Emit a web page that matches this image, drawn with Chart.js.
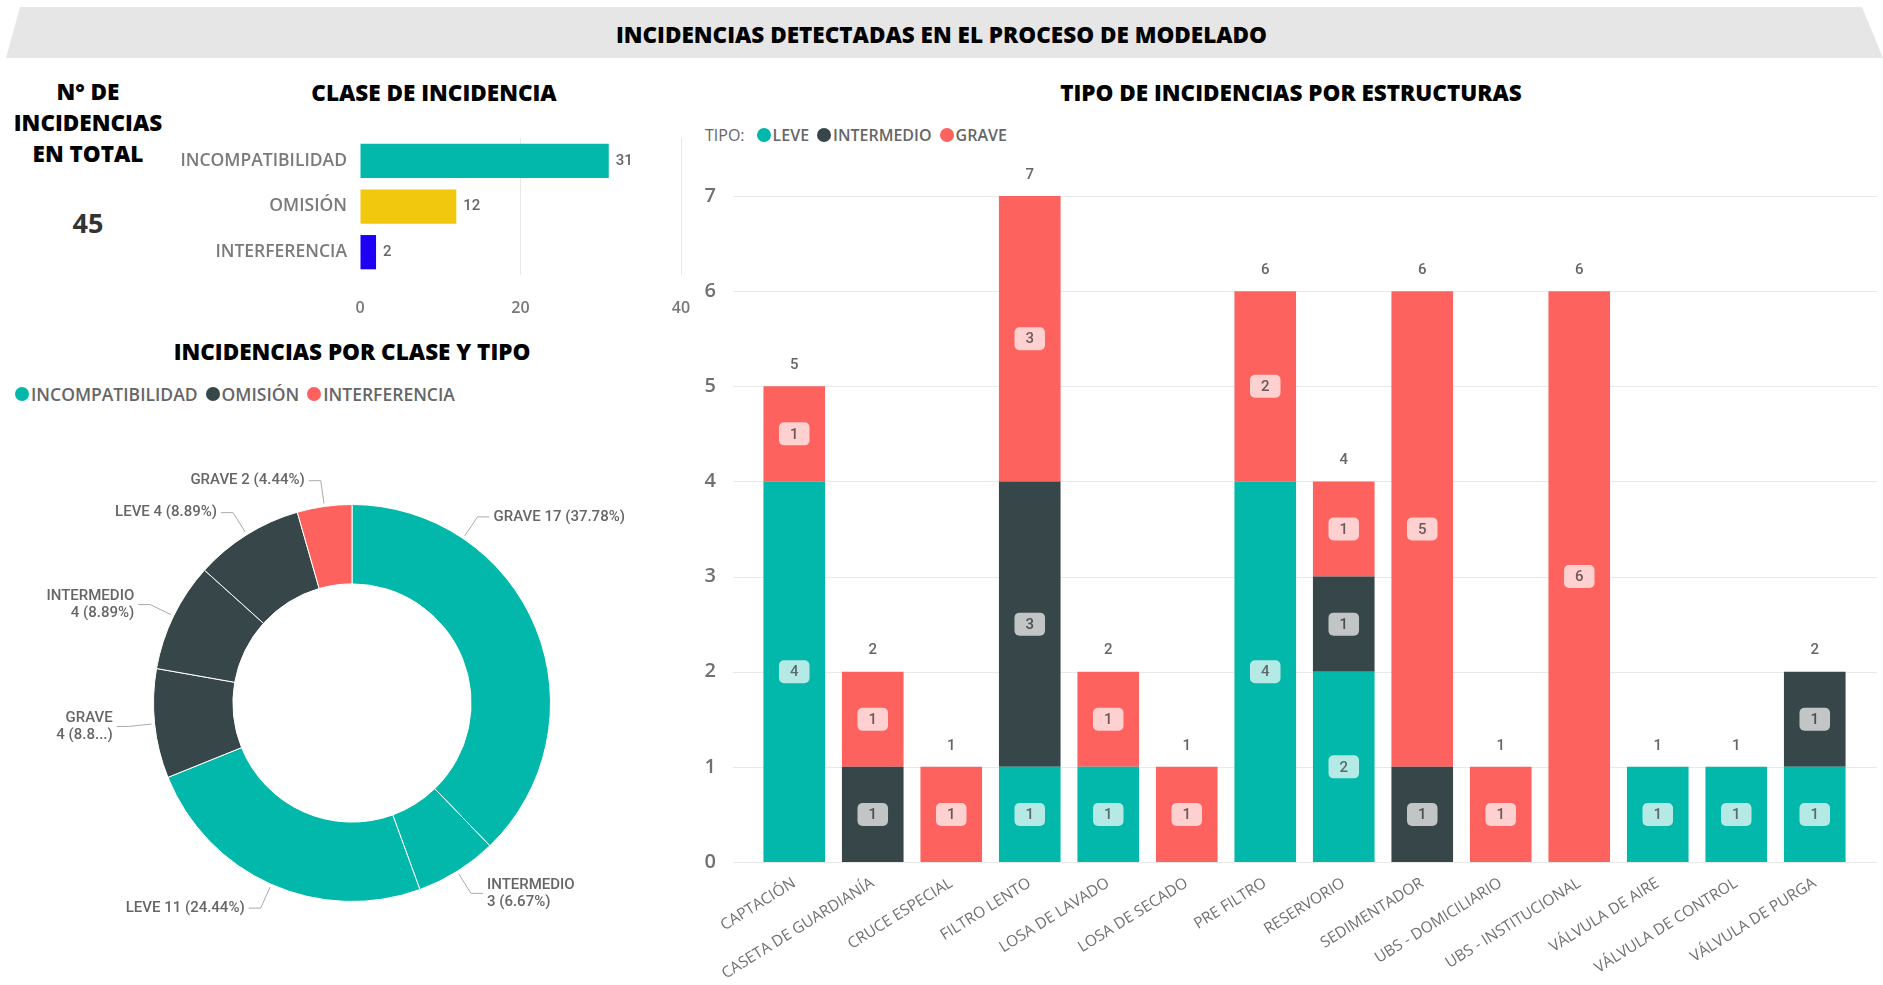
<!DOCTYPE html>
<html lang="es">
<head>
<meta charset="utf-8">
<title>Incidencias detectadas en el proceso de modelado</title>
<script src="https://cdn.jsdelivr.net/npm/chart.js@4.4.1/dist/chart.umd.min.js"></script>
<style>
  html, body { margin: 0; padding: 0; background: #fff; }
  body { width: 1883px; height: 985px; position: relative; overflow: hidden; font-family: 'Open Sans', sans-serif; }
  .banner { position: absolute; left: 0; top: 7px; width: 1883px; height: 51px; background: #e6e6e6;
            clip-path: polygon(20px 0, 1862px 0, 1883px 100%, 6px 100%); }
  .banner h1 { margin: 0; font-size: 22.5px; font-weight: 800; line-height: 55px; text-align: center; color: #000; }
  .title { position: absolute; font-weight: 800; font-size: 22.5px; color: #000; white-space: nowrap;
           transform: translate(-50%, -50%); }
  .kpi { position: absolute; left: 88px; top: 76px; transform: translateX(-50%); text-align: center;
         font-weight: 800; font-size: 22.5px; line-height: 31px; color: #000; white-space: nowrap; }
  .kpi-value { position: absolute; left: 88px; top: 222px; transform: translate(-50%, -50%);
               font-weight: 700; font-size: 27px; color: #333; }
  .legend { position: absolute; display: flex; align-items: center; font-size: 16px; font-weight: 600;
            color: #666; white-space: nowrap; transform: translateY(-50%); }
  .legend .dot { display: inline-block; width: 14px; height: 14px; border-radius: 50%; margin: 0 2px 0 0; }
  .legend .item { display: flex; align-items: center; margin-right: 8px; }
  .legend .lead { font-weight: 400; margin-right: 12px; }
  #claseLegend { font-size: 17.5px; }
  canvas { position: absolute; }
</style>
</head>
<body>
<div class="banner"><h1>INCIDENCIAS DETECTADAS EN EL PROCESO DE MODELADO</h1></div>

<div class="kpi">N° DE<br>INCIDENCIAS<br>EN TOTAL</div>
<div class="kpi-value" id="kpiTotal"></div>

<div class="title" style="left:434px; top:92px;">CLASE DE INCIDENCIA</div>
<div class="title" style="left:352px; top:351px;">INCIDENCIAS POR CLASE Y TIPO</div>
<div class="title" style="left:1291px; top:92px;">TIPO DE INCIDENCIAS POR ESTRUCTURAS</div>

<div class="legend" id="claseLegend" style="left:15px; top:394px;"></div>
<div class="legend" id="tipoLegend" style="left:705px; top:135px;"></div>

<canvas id="claseChart" width="560" height="200" style="left:150px; top:120px;"></canvas>
<canvas id="donutChart" width="704" height="526" style="left:0; top:440px;"></canvas>
<canvas id="estructuraChart" width="1203" height="835" style="left:680px; top:150px;"></canvas>

<script>
// clase de incidencia
const clases = ['INCOMPATIBILIDAD', 'OMISIÓN', 'INTERFERENCIA'];
const clasesTotal = [31, 12, 2];

// doughnut: clase y tipo
const sliceClase = ['INCOMPATIBILIDAD', 'INCOMPATIBILIDAD', 'INCOMPATIBILIDAD', 'OMISIÓN', 'OMISIÓN', 'OMISIÓN', 'INTERFERENCIA'];
const sliceTipo = ['GRAVE', 'INTERMEDIO', 'LEVE', 'GRAVE', 'INTERMEDIO', 'LEVE', 'GRAVE'];
const sliceValor = [17, 3, 11, 4, 4, 4, 2];

// tipo de incidencias por estructura
const estructuras = ['CAPTACIÓN', 'CASETA DE GUARDIANÍA', 'CRUCE ESPECIAL', 'FILTRO LENTO', 'LOSA DE LAVADO',
  'LOSA DE SECADO', 'PRE FILTRO', 'RESERVORIO', 'SEDIMENTADOR', 'UBS - DOMICILIARIO', 'UBS - INSTITUCIONAL',
  'VÁLVULA DE AIRE', 'VÁLVULA DE CONTROL', 'VÁLVULA DE PURGA'];
const tipos = ['LEVE', 'INTERMEDIO', 'GRAVE'];
const leve       = [4, 0, 0, 1, 1, 0, 4, 2, 0, 0, 0, 1, 1, 1];
const intermedio = [0, 1, 0, 3, 0, 0, 0, 1, 1, 0, 0, 0, 0, 1];
const grave      = [1, 1, 1, 3, 1, 1, 2, 1, 5, 1, 6, 0, 0, 0];
const yTicks = [0, 1, 2, 3, 4, 5, 6, 7];

const TEAL = '#01B8AA', DARK = '#374649', RED = '#FD625E', YELLOW = '#F2C80F', BLUE = '#2000F5';
const claseBarColors = [TEAL, YELLOW, BLUE];
const claseColor = { 'INCOMPATIBILIDAD': TEAL, 'OMISIÓN': DARK, 'INTERFERENCIA': RED };
const tipoColor = [TEAL, DARK, RED];
const badgeFill = { [TEAL]: '#b4e9e5', [DARK]: '#c2c5c6', [RED]: '#fed0cf' };
const badgeText = { [TEAL]: '#5b6a69', [DARK]: '#4a4f50', [RED]: '#6a5a5a' };

const numFont = "Roboto, 'DejaVu Sans', sans-serif";
Chart.defaults.font.family = "'Open Sans', sans-serif";
Chart.defaults.animation = false;

document.getElementById('kpiTotal').textContent = clasesTotal.reduce((a, b) => a + b, 0);

// html legends
function buildLegend(el, lead, names, colors) {
  let html = lead ? `<span class="lead">${lead}</span>` : '';
  names.forEach((n, i) => {
    html += `<span class="item"><span class="dot" style="background:${colors[i]}"></span>${n}</span>`;
  });
  el.innerHTML = html;
}
buildLegend(document.getElementById('claseLegend'), '', clases, clases.map(c => claseColor[c]));
buildLegend(document.getElementById('tipoLegend'), 'TIPO:', tipos, tipoColor);

// value next to each horizontal bar
const barValueLabels = {
  id: 'barValueLabels',
  afterDatasetsDraw(chart) {
    const ctx = chart.ctx;
    const ds = chart.data.datasets[0];
    ctx.save();
    ctx.font = `500 15px ${numFont}`;
    ctx.fillStyle = '#666';
    ctx.textAlign = 'left';
    ctx.textBaseline = 'middle';
    chart.getDatasetMeta(0).data.forEach((bar, i) => {
      ctx.fillText(ds.data[i], bar.x + 7, bar.y);
    });
    ctx.restore();
  }
};

new Chart(document.getElementById('claseChart'), {
  type: 'bar',
  data: {
    labels: clases,
    datasets: [{ data: clasesTotal, backgroundColor: claseBarColors, barPercentage: 0.75, categoryPercentage: 1 }]
  },
  options: {
    indexAxis: 'y',
    responsive: false,
    layout: { padding: { top: 18, right: 29, bottom: 0, left: 0 } },
    plugins: { legend: { display: false }, tooltip: { enabled: false } },
    scales: {
      x: {
        min: 0, max: 40,
        ticks: { stepSize: 20, padding: 24, color: '#777', font: { size: 16, weight: 600 } },
        grid: { drawTicks: false, color: c => c.tick && c.tick.value === 0 ? 'rgba(0,0,0,0)' : '#e8e8e8' },
        border: { display: false },
        afterFit: s => { s.height = 45; s.paddingLeft = 0; s.paddingRight = 0; }
      },
      y: {
        ticks: { padding: 5, color: '#7a7a7a', font: { size: 17.5, weight: 600 } },
        grid: { display: false },
        border: { display: false },
        afterFit: s => { s.width = 210; }
      }
    }
  },
  plugins: [barValueLabels]
});

// outside labels with leader lines for the doughnut
const donutLabels = {
  id: 'donutLabels',
  afterDraw(chart, args, opts) {
    const ctx = chart.ctx;
    const total = sliceValor.reduce((a, b) => a + b, 0);
    ctx.save();
    ctx.font = `500 15px ${numFont}`;
    ctx.fillStyle = '#666';
    ctx.strokeStyle = '#aaa';
    ctx.lineWidth = 1;
    ctx.textBaseline = 'middle';
    chart.getDatasetMeta(0).data.forEach((arc, i) => {
      const { x, y, startAngle, endAngle, outerRadius } = arc;
      const span = endAngle - startAngle;
      const a = span > 2.1 ? startAngle + span * 0.25 : startAngle + span / 2;
      const cos = Math.cos(a), sin = Math.sin(a);
      const x0 = x + cos * (outerRadius + 3), y0 = y + sin * (outerRadius + 3);
      const x1 = x + cos * (outerRadius + 26), y1 = y + sin * (outerRadius + 26);
      const right = cos >= 0;
      const x2 = x1 + (right ? 12 : -12);
      const tx = x2 + (right ? 4 : -4);

      ctx.beginPath();
      ctx.moveTo(x0, y0);
      ctx.lineTo(x1, y1);
      ctx.lineTo(x2, y1);
      ctx.stroke();

      const v = sliceValor[i];
      const pct = (v / total * 100).toFixed(2) + '%';
      const full = `${sliceTipo[i]} ${v} (${pct})`;
      const avail = right ? opts.maxX - tx : tx - opts.minX;
      let lines = [full];
      if (ctx.measureText(full).width > avail) {
        let p = pct;
        let second = `${v} (${p})`;
        while (ctx.measureText(second).width > avail && p.length > 1) {
          p = p.slice(0, -1);
          second = `${v} (${p}...)`;
        }
        lines = [sliceTipo[i], second];
      }
      ctx.textAlign = right ? 'left' : 'right';
      lines.forEach((t, k) => {
        ctx.fillText(t, tx, y1 + (k - (lines.length - 1) / 2) * 17);
      });
    });
    ctx.restore();
  }
};

new Chart(document.getElementById('donutChart'), {
  type: 'doughnut',
  data: {
    labels: sliceTipo,
    datasets: [{
      data: sliceValor,
      backgroundColor: sliceClase.map(c => claseColor[c]),
      borderColor: '#fff',
      borderWidth: 1,
      hoverOffset: 0
    }]
  },
  options: {
    responsive: false,
    cutout: '60%',
    layout: { padding: { left: 153, right: 153, top: 64, bottom: 64 } },
    plugins: {
      legend: { display: false },
      tooltip: { enabled: false },
      donutLabels: { minX: 55, maxX: 636 }
    }
  },
  plugins: [donutLabels]
});

// horizontal grid lines running past the bars
const wideGrid = {
  id: 'wideGrid',
  beforeDatasetsDraw(chart) {
    const { ctx, chartArea } = chart;
    const ys = chart.scales.y;
    ctx.save();
    ctx.strokeStyle = '#e9e9e9';
    ctx.lineWidth = 1;
    yTicks.forEach(t => {
      const py = Math.round(ys.getPixelForValue(t)) + 0.5;
      ctx.beginPath();
      ctx.moveTo(chartArea.left - 22, py);
      ctx.lineTo(chartArea.right + 23, py);
      ctx.stroke();
    });
    ctx.restore();
  }
};

// value badges inside segments and totals on top of each stack
const stackLabels = {
  id: 'stackLabels',
  afterDatasetsDraw(chart) {
    const ctx = chart.ctx;
    ctx.save();
    ctx.font = `500 15px ${numFont}`;
    ctx.textAlign = 'center';
    ctx.textBaseline = 'middle';
    chart.data.datasets.forEach((ds, di) => {
      chart.getDatasetMeta(di).data.forEach((bar, i) => {
        const v = ds.data[i];
        if (!v) return;
        const cy = (bar.y + bar.base) / 2;
        const w = ctx.measureText(String(v)).width + 22, h = 23;
        ctx.fillStyle = badgeFill[ds.backgroundColor];
        ctx.beginPath();
        ctx.roundRect(bar.x - w / 2, cy - h / 2, w, h, 5);
        ctx.fill();
        ctx.fillStyle = badgeText[ds.backgroundColor];
        ctx.fillText(v, bar.x, cy + 1);
      });
    });
    const ys = chart.scales.y, xs = chart.scales.x;
    ctx.fillStyle = '#666';
    estructuras.forEach((e, i) => {
      const total = leve[i] + intermedio[i] + grave[i];
      ctx.fillText(total, xs.getPixelForValue(i), ys.getPixelForValue(total) - 21);
    });
    ctx.restore();
  }
};

new Chart(document.getElementById('estructuraChart'), {
  type: 'bar',
  data: {
    labels: estructuras,
    datasets: [leve, intermedio, grave].map((d, i) => ({
      label: tipos[i],
      data: d,
      backgroundColor: tipoColor[i],
      barPercentage: 0.785,
      categoryPercentage: 1
    }))
  },
  options: {
    responsive: false,
    layout: { padding: { top: 46, right: 29, bottom: 0, left: 0 } },
    plugins: { legend: { display: false }, tooltip: { enabled: false } },
    scales: {
      x: {
        stacked: true,
        grid: { display: false },
        border: { display: false },
        ticks: { autoSkip: false, minRotation: 32, maxRotation: 32, padding: 4, color: '#707070', font: { size: 15.5 } },
        afterFit: s => { s.height = 123; s.paddingLeft = 0; s.paddingRight = 0; }
      },
      y: {
        stacked: true,
        min: 0, max: 7,
        ticks: { stepSize: 1, padding: 31, color: '#707070', font: { size: 20, weight: 600 } },
        grid: { display: false },
        border: { display: false },
        afterFit: s => { s.width = 75; }
      }
    }
  },
  plugins: [wideGrid, stackLabels]
});
</script>
</body>
</html>
